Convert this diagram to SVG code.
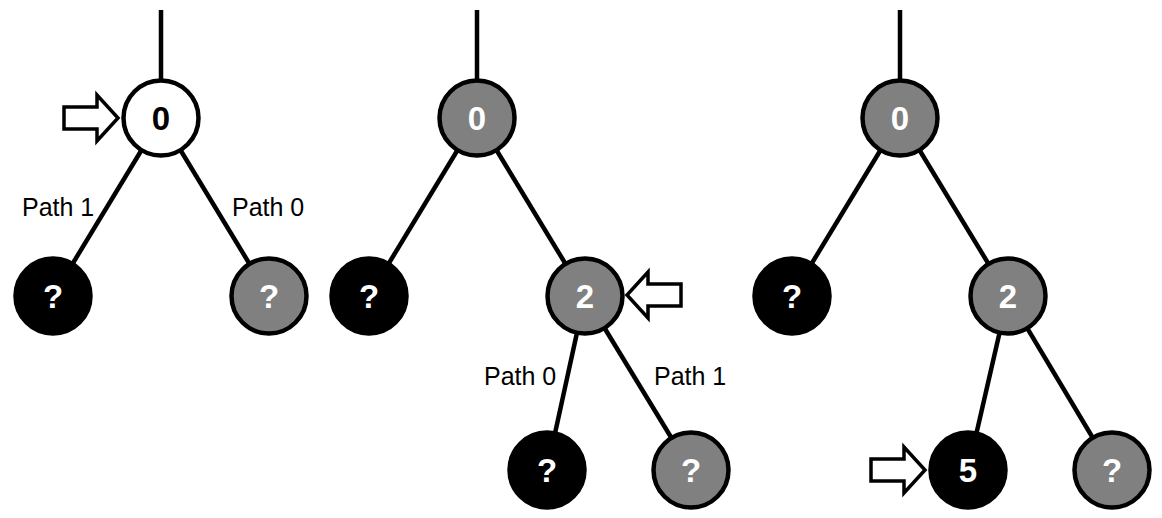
<svg xmlns="http://www.w3.org/2000/svg" xmlns:xlink="http://www.w3.org/1999/xlink" width="1162" height="518" viewBox="0 0 1162 518">
<style>
.e{stroke:#000;stroke-width:4.5;fill:none}
.n{stroke:#000;stroke-width:4.5}
.w{fill:#fff}
.g{fill:#808080}
.b{fill:#000}
.t{font-family:"Liberation Sans",Arial,sans-serif;font-weight:bold;font-size:33px;text-anchor:middle}
.tw{fill:#fff}
.tb{fill:#000}
.lab{font-family:"Liberation Sans",Arial,sans-serif;font-size:25px;fill:#000}
.arr{fill:#fff;stroke:#000;stroke-width:3.5;stroke-linejoin:miter}
</style>
<defs>
<path id="arrow" d="M-54,-11 H-21 V-23 L0,0 L-21,23 V11 H-54 Z"/>
</defs>
<rect width="1162" height="518" fill="#fff"/>
<g id="connectors">
<line class="e" x1="161" y1="10" x2="161" y2="118"/>
<line class="e" x1="161" y1="118" x2="53" y2="296"/>
<line class="e" x1="161" y1="118" x2="269" y2="296"/>
<line class="e" x1="477" y1="10" x2="477" y2="118"/>
<line class="e" x1="477" y1="118" x2="369" y2="296"/>
<line class="e" x1="477" y1="118" x2="585" y2="296"/>
<line class="e" x1="585" y1="296" x2="547" y2="470"/>
<line class="e" x1="585" y1="296" x2="691" y2="470"/>
<line class="e" x1="900" y1="10" x2="900" y2="118"/>
<line class="e" x1="900" y1="118" x2="792" y2="296"/>
<line class="e" x1="900" y1="118" x2="1008" y2="296"/>
<line class="e" x1="1008" y1="296" x2="968" y2="470"/>
<line class="e" x1="1008" y1="296" x2="1112" y2="470"/>
</g>
<g id="labels">
<text class="lab" x="22" y="216">Path 1</text>
<text class="lab" x="232" y="216">Path 0</text>
<text class="lab" x="484" y="385">Path 0</text>
<text class="lab" x="654" y="385">Path 1</text>
</g>
<g id="t1-root"><circle class="n w" cx="161" cy="118" r="37.5"/><text class="t tb" x="161" y="130">0</text></g>
<g id="t1-left"><circle class="n b" cx="53" cy="296" r="37.5"/><text class="t tw" x="53" y="308">?</text></g>
<g id="t1-right"><circle class="n g" cx="269" cy="296" r="37.5"/><text class="t tw" x="269" y="308">?</text></g>
<g id="t2-root"><circle class="n g" cx="477" cy="118" r="37.5"/><text class="t tw" x="477" y="130">0</text></g>
<g id="t2-left"><circle class="n b" cx="369" cy="296" r="37.5"/><text class="t tw" x="369" y="308">?</text></g>
<g id="t2-right"><circle class="n g" cx="585" cy="296" r="37.5"/><text class="t tw" x="585" y="308">2</text></g>
<g id="t2-ll"><circle class="n b" cx="547" cy="470" r="37.5"/><text class="t tw" x="547" y="482">?</text></g>
<g id="t2-lr"><circle class="n g" cx="691" cy="470" r="37.5"/><text class="t tw" x="691" y="482">?</text></g>
<g id="t3-root"><circle class="n g" cx="900" cy="118" r="37.5"/><text class="t tw" x="900" y="130">0</text></g>
<g id="t3-left"><circle class="n b" cx="792" cy="296" r="37.5"/><text class="t tw" x="792" y="308">?</text></g>
<g id="t3-right"><circle class="n g" cx="1008" cy="296" r="37.5"/><text class="t tw" x="1008" y="308">2</text></g>
<g id="t3-ll"><circle class="n b" cx="968" cy="470" r="37.5"/><text class="t tw" x="968" y="482">5</text></g>
<g id="t3-lr"><circle class="n g" cx="1112" cy="470" r="37.5"/><text class="t tw" x="1112" y="482">?</text></g>
<g id="arrows">
<use xlink:href="#arrow" class="arr" transform="translate(118,118)"/>
<use xlink:href="#arrow" class="arr" transform="translate(627,295) scale(-1,1)"/>
<use xlink:href="#arrow" class="arr" transform="translate(925,470)"/>
</g>
</svg>
